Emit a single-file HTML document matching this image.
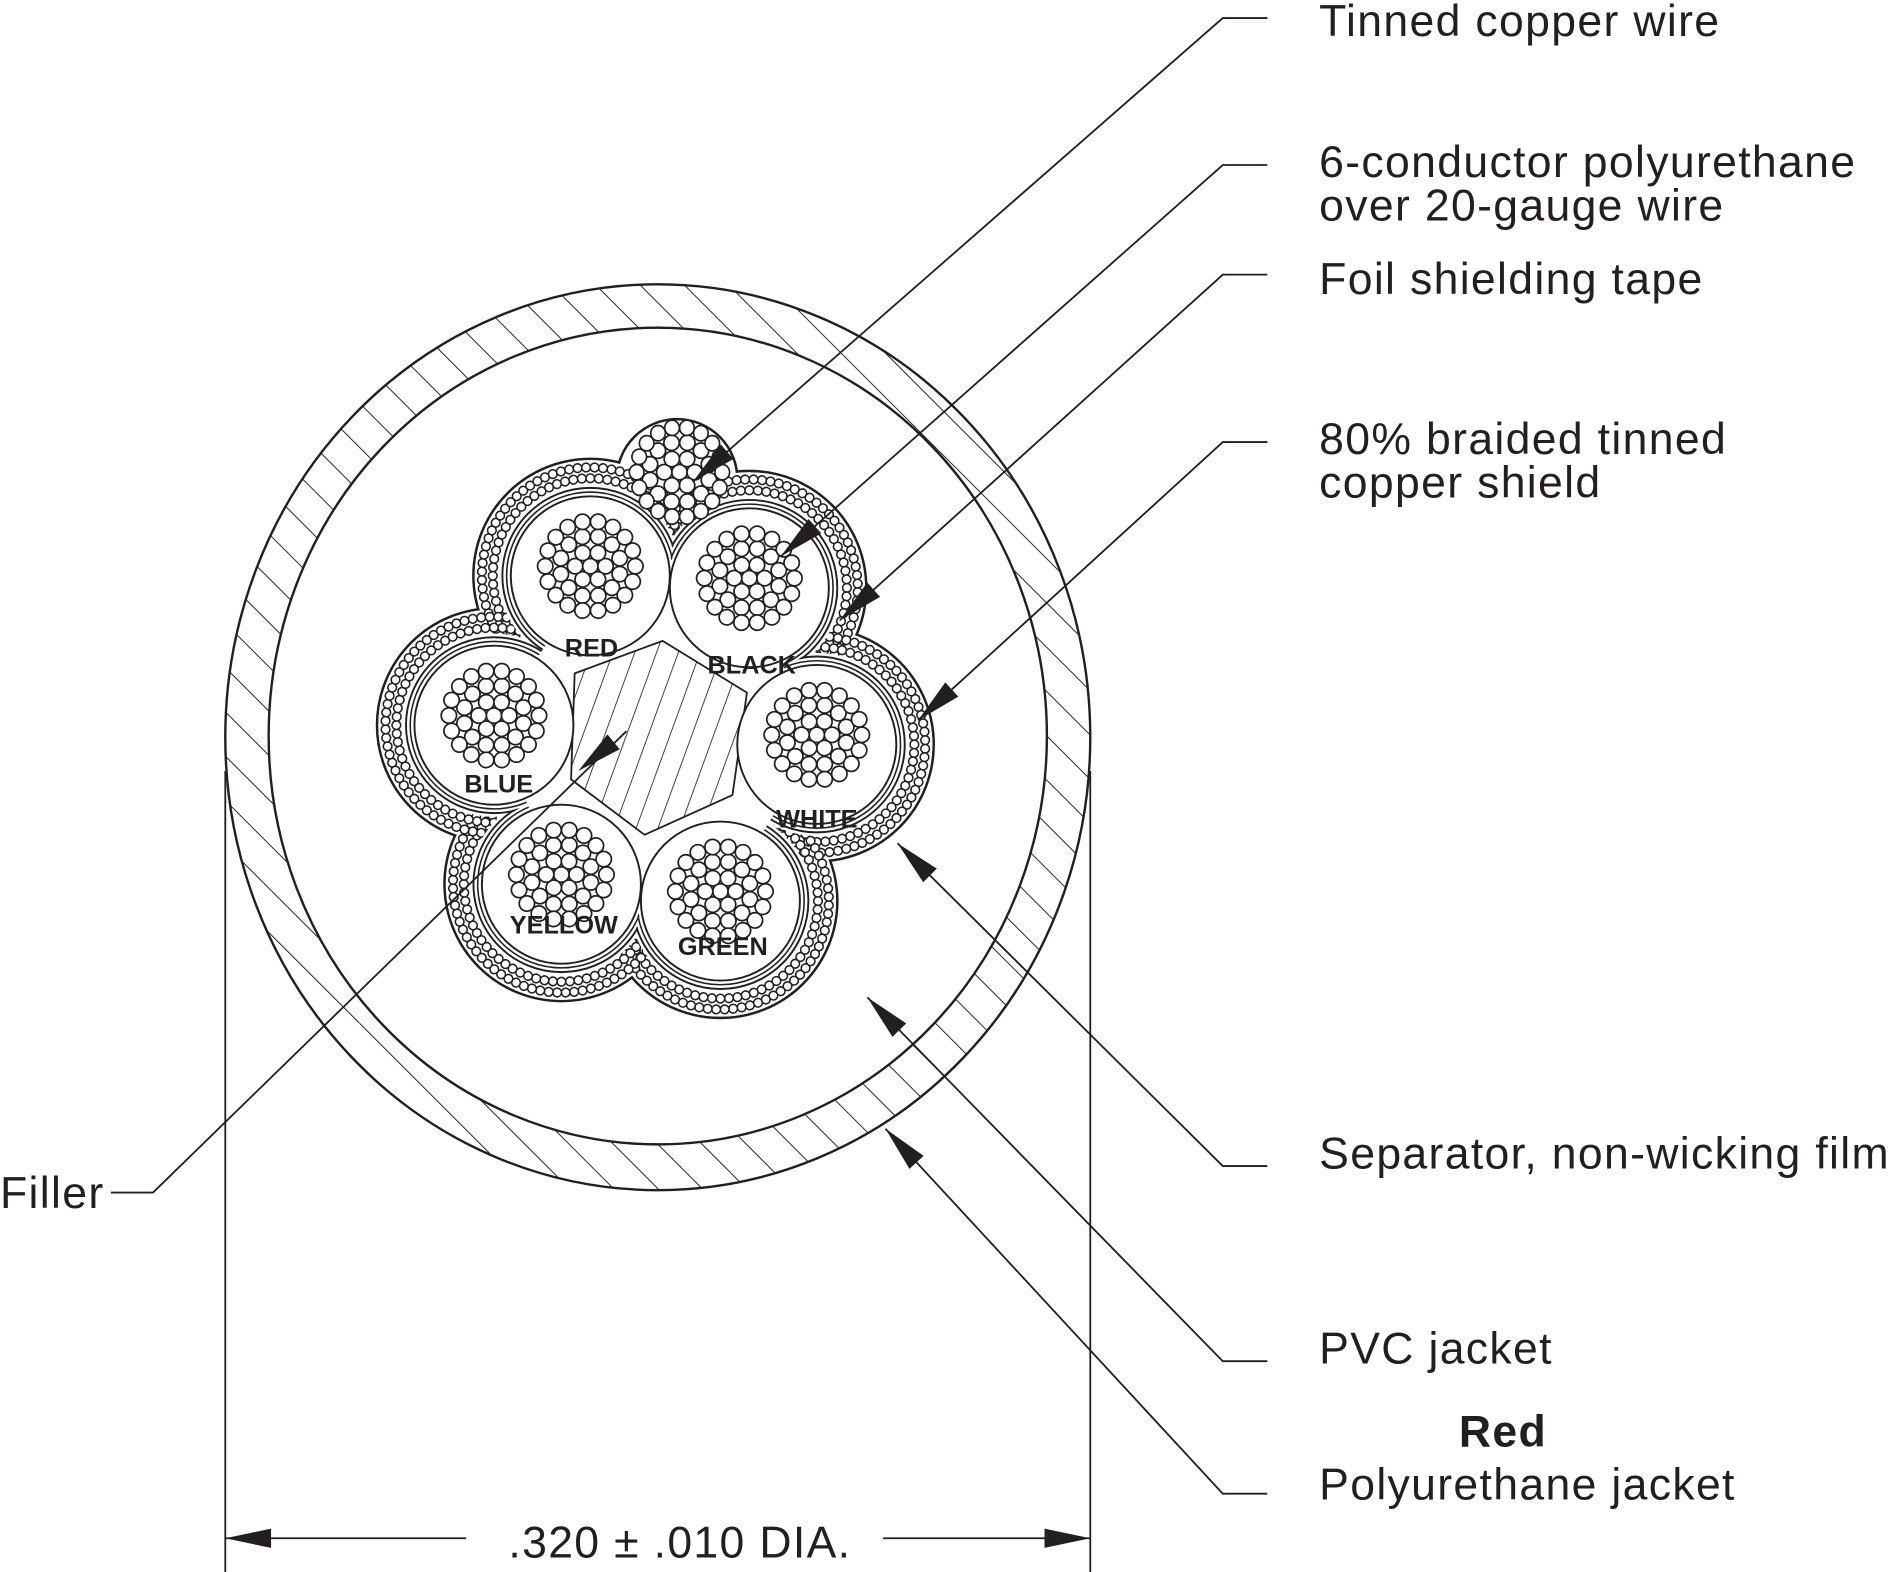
<!DOCTYPE html>
<html><head><meta charset="utf-8"><style>
html,body{margin:0;padding:0;background:#fff;}
svg{display:block;}
text{font-family:"Liberation Sans",Arial,sans-serif;fill:#231f20;}
</style></head><body>
<svg width="1889" height="1572" viewBox="0 0 1568 1305" preserveAspectRatio="none" xmlns="http://www.w3.org/2000/svg" xmlns:xlink="http://www.w3.org/1999/xlink">
<defs>
<pattern id="h" patternUnits="userSpaceOnUse" width="26" height="26" patternTransform="rotate(-45)">
<line x1="0" y1="0" x2="0" y2="26" stroke="#231f20" stroke-width="1.6"/>
</pattern>
<pattern id="h2" patternUnits="userSpaceOnUse" width="17" height="17" patternTransform="rotate(20)">
<line x1="0" y1="0" x2="0" y2="17" stroke="#231f20" stroke-width="1.4"/>
</pattern>
<mask id="ring"><rect width="1568" height="1305" fill="#fff"/><ellipse cx="546" cy="611" rx="323" ry="339" fill="#000"/></mask>
<circle id="ba" cx="81" cy="0" r="3.6" fill="#fff" stroke="#231f20" stroke-width="1.3"/>
<g id="ba9"><use xlink:href="#ba"/><use xlink:href="#ba" transform="rotate(5)"/><use xlink:href="#ba" transform="rotate(10)"/><use xlink:href="#ba" transform="rotate(15)"/><use xlink:href="#ba" transform="rotate(20)"/><use xlink:href="#ba" transform="rotate(25)"/><use xlink:href="#ba" transform="rotate(30)"/><use xlink:href="#ba" transform="rotate(35)"/><use xlink:href="#ba" transform="rotate(40)"/></g>
<circle id="bb" cx="90" cy="0" r="3.6" fill="#fff" stroke="#231f20" stroke-width="1.3"/>
<g id="bb10"><use xlink:href="#bb"/><use xlink:href="#bb" transform="rotate(4.5)"/><use xlink:href="#bb" transform="rotate(9)"/><use xlink:href="#bb" transform="rotate(13.5)"/><use xlink:href="#bb" transform="rotate(18)"/><use xlink:href="#bb" transform="rotate(22.5)"/><use xlink:href="#bb" transform="rotate(27)"/><use xlink:href="#bb" transform="rotate(31.5)"/><use xlink:href="#bb" transform="rotate(36)"/><use xlink:href="#bb" transform="rotate(40.5)"/></g>
<g id="dring">
<use xlink:href="#ba9"/><use xlink:href="#ba9" transform="rotate(45)"/><use xlink:href="#ba9" transform="rotate(90)"/><use xlink:href="#ba9" transform="rotate(135)"/><use xlink:href="#ba9" transform="rotate(180)"/><use xlink:href="#ba9" transform="rotate(225)"/><use xlink:href="#ba9" transform="rotate(270)"/><use xlink:href="#ba9" transform="rotate(315)"/>
<g transform="rotate(2.25)"><use xlink:href="#bb10"/><use xlink:href="#bb10" transform="rotate(45)"/><use xlink:href="#bb10" transform="rotate(90)"/><use xlink:href="#bb10" transform="rotate(135)"/><use xlink:href="#bb10" transform="rotate(180)"/><use xlink:href="#bb10" transform="rotate(225)"/><use xlink:href="#bb10" transform="rotate(270)"/><use xlink:href="#bb10" transform="rotate(315)"/></g>
</g>
<circle id="s0" cx="0" cy="0" r="5.8" fill="#fff" stroke="#231f20" stroke-width="1.3"/>
<use id="s1" xlink:href="#s0" x="11.5" y="0"/>
<use id="s2" xlink:href="#s0" x="23" y="0"/>
<use id="s3" xlink:href="#s0" x="34" y="0"/>
<g id="r6"><use xlink:href="#s1"/><use xlink:href="#s1" transform="rotate(60)"/><use xlink:href="#s1" transform="rotate(120)"/><use xlink:href="#s1" transform="rotate(180)"/><use xlink:href="#s1" transform="rotate(240)"/><use xlink:href="#s1" transform="rotate(300)"/></g>
<g id="r12a"><use xlink:href="#s2" transform="rotate(15)"/><use xlink:href="#s2" transform="rotate(45)"/><use xlink:href="#s2" transform="rotate(75)"/><use xlink:href="#s2" transform="rotate(105)"/><use xlink:href="#s2" transform="rotate(135)"/><use xlink:href="#s2" transform="rotate(165)"/></g>
<g id="r18a"><use xlink:href="#s3"/><use xlink:href="#s3" transform="rotate(20)"/><use xlink:href="#s3" transform="rotate(40)"/><use xlink:href="#s3" transform="rotate(60)"/><use xlink:href="#s3" transform="rotate(80)"/><use xlink:href="#s3" transform="rotate(100)"/><use xlink:href="#s3" transform="rotate(120)"/><use xlink:href="#s3" transform="rotate(140)"/><use xlink:href="#s3" transform="rotate(160)"/></g>
<g id="strands"><use xlink:href="#s0"/><use xlink:href="#r6"/><use xlink:href="#r12a"/><use xlink:href="#r12a" transform="rotate(180)"/><use xlink:href="#r18a"/><use xlink:href="#r18a" transform="rotate(180)"/></g>
<g id="cond"><circle r="66" fill="#fff" stroke="#231f20" stroke-width="1.6"/><use xlink:href="#strands" transform="translate(0,-8) scale(1.1)"/></g>
<path id="ah" d="M0,0 L-38,-8 L-38,8Z" fill="#231f20"/>
<polygon id="hex" points="490,478 622,488 678,618 598,748 466,734 410,602" fill="#fff"/>
</defs>
<rect width="1568" height="1305" fill="#fff"/>
<ellipse cx="546" cy="612" rx="359" ry="376" fill="url(#h)" mask="url(#ring)"/>
<ellipse cx="546" cy="612" rx="359" ry="376" fill="none" stroke="#231f20" stroke-width="2"/>
<ellipse cx="546" cy="611" rx="323" ry="339" fill="#fff" stroke="#231f20" stroke-width="2"/>

<g fill="none" stroke="#231f20" stroke-width="2.2">
<circle cx="490" cy="478" r="97"/><circle cx="622" cy="488" r="97"/><circle cx="678" cy="618" r="97"/><circle cx="598" cy="748" r="97"/><circle cx="466" cy="734" r="97"/><circle cx="410" cy="602" r="97"/><circle cx="562" cy="398" r="50"/>
</g>
<g fill="#fff">
<circle cx="490" cy="478" r="96"/><circle cx="622" cy="488" r="96"/><circle cx="678" cy="618" r="96"/><circle cx="598" cy="748" r="96"/><circle cx="466" cy="734" r="96"/><circle cx="410" cy="602" r="96"/><circle cx="562" cy="398" r="49"/>
</g>
<use xlink:href="#hex"/>
<g>
<use xlink:href="#dring" transform="translate(490,478)"/><use xlink:href="#dring" transform="translate(622,488)"/><use xlink:href="#dring" transform="translate(678,618)"/><use xlink:href="#dring" transform="translate(598,748)"/><use xlink:href="#dring" transform="translate(466,734)"/><use xlink:href="#dring" transform="translate(410,602)"/>
</g>
<use xlink:href="#hex"/>
<g fill="#fff">
<circle cx="490" cy="478" r="76"/><circle cx="622" cy="488" r="76"/><circle cx="678" cy="618" r="76"/><circle cx="598" cy="748" r="76"/><circle cx="466" cy="734" r="76"/><circle cx="410" cy="602" r="76"/>
</g>
<g fill="none" stroke="#231f20" stroke-width="1.6">
<circle cx="490" cy="478" r="73"/><circle cx="622" cy="488" r="73"/><circle cx="678" cy="618" r="73"/><circle cx="598" cy="748" r="73"/><circle cx="466" cy="734" r="73"/><circle cx="410" cy="602" r="73"/>
</g>
<g fill="#fff">
<circle cx="490" cy="478" r="72"/><circle cx="622" cy="488" r="72"/><circle cx="678" cy="618" r="72"/><circle cx="598" cy="748" r="72"/><circle cx="466" cy="734" r="72"/><circle cx="410" cy="602" r="72"/>
</g>
<g fill="none" stroke="#231f20" stroke-width="1.3">
<circle cx="490" cy="478" r="69.5"/><circle cx="622" cy="488" r="69.5"/><circle cx="678" cy="618" r="69.5"/><circle cx="598" cy="748" r="69.5"/><circle cx="466" cy="734" r="69.5"/><circle cx="410" cy="602" r="69.5"/>
</g>
<g fill="#fff">
<circle cx="490" cy="478" r="68.5"/><circle cx="622" cy="488" r="68.5"/><circle cx="678" cy="618" r="68.5"/><circle cx="598" cy="748" r="68.5"/><circle cx="466" cy="734" r="68.5"/><circle cx="410" cy="602" r="68.5"/>
</g>
<use xlink:href="#hex"/>
<g transform="translate(564,392) scale(1.1)">
<use xlink:href="#s0"/><use xlink:href="#r6"/><use xlink:href="#r12a"/><use xlink:href="#r12a" transform="rotate(180)"/>
<use xlink:href="#r18a" transform="scale(0.95,1)"/><use xlink:href="#r18a" transform="rotate(180) scale(0.95,1)"/>
</g>
<!-- filler -->
<path d="M477,559 L550,532 L620,575 L608,660 L535,693 L474,647 Z" fill="url(#h2)" stroke="#231f20" stroke-width="1.5" stroke-linejoin="round"/>
<use xlink:href="#cond" transform="translate(490,478)"/>
<use xlink:href="#cond" transform="translate(622,488)"/>
<use xlink:href="#cond" transform="translate(678,618)"/>
<use xlink:href="#cond" transform="translate(598,748)"/>
<use xlink:href="#cond" transform="translate(466,734)"/>
<use xlink:href="#cond" transform="translate(410,602)"/>
<g font-size="21" font-weight="bold" text-anchor="middle">
<text x="491" y="545">RED</text>
<text x="624" y="559">BLACK</text>
<text x="678" y="687">WHITE</text>
<text x="600" y="793">GREEN</text>
<text x="468" y="775">YELLOW</text>
<text x="414" y="658">BLUE</text>
</g>

<g stroke="#231f20" stroke-width="1.5" fill="none">
<polyline points="1052,15 1015,15 575,400"/>
<polyline points="1052,137 1015,137 648,462"/>
<polyline points="1052,228 1015,228 697,515"/>
<polyline points="1052,367 1015,367 762,598"/>
<polyline points="1052,968 1015,968 745,700"/>
<polyline points="1052,1130 1015,1130 720,828"/>
<polyline points="1052,1240 1015,1240 735,937"/>
<polyline points="92,990 127,990 520,607"/>
<line x1="187" y1="640" x2="187" y2="1305"/>
<line x1="905" y1="640" x2="905" y2="1305"/>
<line x1="187" y1="1277" x2="387" y2="1277"/>
<line x1="733" y1="1277" x2="905" y2="1277"/>
</g>
<use xlink:href="#ah" transform="translate(575,400) rotate(138.8)"/>
<use xlink:href="#ah" transform="translate(648,462) rotate(138.5)"/>
<use xlink:href="#ah" transform="translate(697,515) rotate(137.9)"/>
<use xlink:href="#ah" transform="translate(762,598) rotate(137.6)"/>
<use xlink:href="#ah" transform="translate(745,700) rotate(224.8)"/>
<use xlink:href="#ah" transform="translate(720,828) rotate(225.7)"/>
<use xlink:href="#ah" transform="translate(735,937) rotate(227.3)"/>
<use xlink:href="#ah" transform="translate(480,640) rotate(140.5)"/>
<use xlink:href="#ah" transform="translate(187,1277) rotate(180)"/>
<use xlink:href="#ah" transform="translate(905,1277)"/>

<g font-size="37" letter-spacing="1.1">
<text x="1095" y="30">Tinned copper wire</text>
<text x="1095" y="147">6-conductor polyurethane</text>
<text x="1095" y="183">over 20-gauge wire</text>
<text x="1095" y="244">Foil shielding tape</text>
<text x="1095" y="377">80% braided tinned</text>
<text x="1095" y="413">copper shield</text>
<text x="1095" y="970">Separator, non-wicking film</text>
<text x="1095" y="1132">PVC jacket</text>
<text x="1211" y="1201" font-weight="bold">Red</text>
<text x="1095" y="1245">Polyurethane jacket</text>
<text x="0" y="1003">Filler</text>
<text x="422" y="1293">.320 ± .010 DIA.</text>
</g>
</svg>
</body></html>
